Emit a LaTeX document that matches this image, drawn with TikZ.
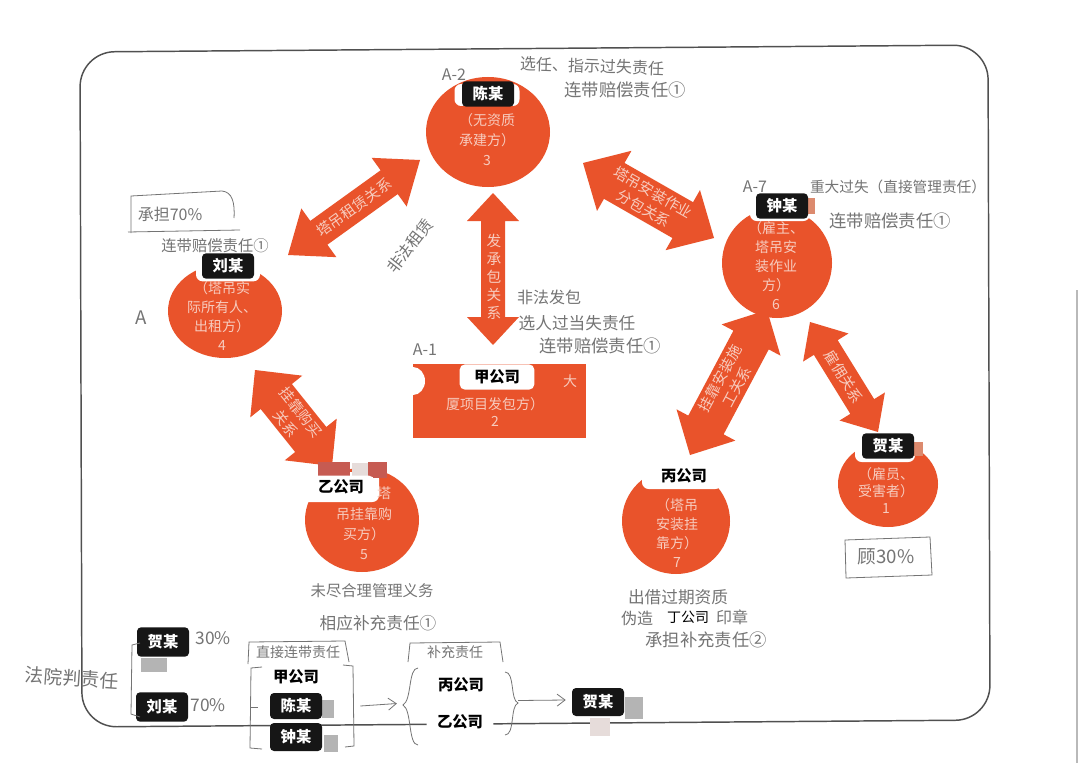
\documentclass[tikz,border=0pt]{standalone}
\usepackage{fontspec}
\newfontfamily\cjk{Noto Sans CJK SC}
\usetikzlibrary{shapes.geometric,calc,arrows.meta}
\definecolor{orng}{HTML}{E9532B}
\definecolor{pinktxt}{HTML}{F7CBBE}
\definecolor{pen}{HTML}{747474}
\definecolor{framec}{HTML}{505050}
\definecolor{lblk}{HTML}{161616}
\definecolor{patchg}{HTML}{B4B4B4}
\definecolor{patchor}{HTML}{DC8A6E}
\definecolor{patchpk}{HTML}{C65B52}
\definecolor{patchlt}{HTML}{E6DCDA}
\newcommand\fatarr[5]{%
  \coordinate (fa1) at ($(#1)!#5!(#2)$);
  \coordinate (fb1) at ($(#2)!#5!(#1)$);
  \fill[arrfill] (#1) -- ($(fa1)!#4!90:(#2)$) -- ($(fa1)!#3!90:(#2)$)
    -- ($(fb1)!#3!-90:(#1)$) -- ($(fb1)!#4!-90:(#1)$) -- (#2)
    -- ($(fb1)!#4!90:(#1)$) -- ($(fb1)!#3!90:(#1)$)
    -- ($(fa1)!#3!-90:(#2)$) -- ($(fa1)!#4!-90:(#2)$) -- cycle;}
\begin{document}
\begin{tikzpicture}[x=0.75pt,y=-0.75pt,
  arrfill/.style={fill=orng},
  circ/.style={ellipse, fill=orng, inner sep=0pt},
  intxt/.style={text=pinktxt, font=\cjk\fontsize{10.5}{14.5}\selectfont, align=center, inner sep=0pt},
  arrtxt/.style={text=pinktxt, font=\cjk\fontsize{11}{14}\selectfont, align=center, inner sep=0pt},
  blk/.style={fill=lblk, text=white, rounded corners=3pt, font=\cjk\bfseries\fontsize{11.5}{12}\selectfont, inner xsep=3pt, inner ysep=0pt, minimum height=19pt, minimum width=39pt},
  wht/.style={fill=white, text=black, rounded corners=4pt, font=\cjk\bfseries\fontsize{11.5}{12}\selectfont, inner xsep=4pt, inner ysep=0pt, minimum height=19pt},
  hand/.style={text=pen, font=\cjk\fontsize{12}{14}\selectfont, inner sep=0pt},
  halo/.style={fill=white, rounded corners=5pt, inner sep=0pt},
  pencil/.style={draw=pen, line width=0.6pt},
  patchbox/.style={inner sep=0pt},
]
\fill[white] (0,0) rectangle (1080,763);
\useasboundingbox (0,0) rectangle (1080,763);

% frame
\draw[framec, line width=1.1pt, rounded corners=26pt] (534,48.5) -- (988,45) -- (990,720) -- (82,727) -- (80,52) -- cycle;
\draw[gray!55, line width=0.8pt] (1077,290) -- (1077,763);

% arrow end points
\coordinate (a1s) at (288,255); \coordinate (a1e) at (420,160);
\coordinate (a2s) at (493,193); \coordinate (a2e) at (493,345);
\coordinate (a3s) at (583,163); \coordinate (a3e) at (714,238);
\coordinate (a4s) at (255,370); \coordinate (a4e) at (332,466);
\coordinate (a5s) at (690,455); \coordinate (a5e) at (767,310);
\coordinate (a6s) at (810,322); \coordinate (a6e) at (878,432);

\fatarr{a1s}{a1e}{11pt}{22.5pt}{28.5pt}
\fatarr{a2s}{a2e}{9pt}{19.5pt}{21pt}
\fatarr{a3s}{a3e}{15.5pt}{26pt}{27pt}
\fatarr{a4s}{a4e}{15pt}{25pt}{25.5pt}
\fatarr{a5s}{a5e}{15pt}{25pt}{25.5pt}
\fatarr{a6s}{a6e}{10.5pt}{20pt}{22.5pt}

\node[arrtxt, rotate=35.7] (l1) at ($(a1s)!0.5!(a1e)$) {塔吊租赁关系};
\node[arrtxt, font=\cjk\fontsize{11}{13.5}\selectfont] (l2) at (494,277) {发\\承\\包\\关\\系};
\node[arrtxt, rotate=-29.8] (l3) at ($(a3s)!0.5!(a3e)$) {塔吊安装作业\\分包关系};
\node[arrtxt, rotate=-51.3] (l4) at ($(a4s)!0.5!(a4e)$) {挂靠购买\\关系};
\node[arrtxt, rotate=62] (l5) at ($(a5s)!0.5!(a5e)$) {挂靠安装施\\工关系};
\node[arrtxt, rotate=-58.3] (l6) at ($(a6s)!0.5!(a6e)$) {雇佣关系};

% parties
\node[circ, minimum width=93pt, minimum height=82.5pt] (c3) at (488,132) {};
\node[circ, minimum width=85.5pt, minimum height=70.5pt] (c4) at (225,311) {};
\node[circ, minimum width=82.5pt, minimum height=82.5pt] (c6) at (777,263) {};
\node[fill=orng, minimum width=129.75pt, minimum height=55.5pt, inner sep=0pt] (r2) at (499.5,401) {};
\node[circ, minimum width=85.5pt, minimum height=78pt] (c5) at (362,520) {};
\node[circ, minimum width=81pt, minimum height=79.5pt] (c7) at (676,521) {};
\node[circ, minimum width=75pt, minimum height=64.5pt] (c1) at (888,484) {};

% cut-outs and patches
\node[halo, minimum width=48.75pt, minimum height=16.5pt] (h3) at (487,95) {};
\node[halo, minimum width=48pt, minimum height=20pt] (h4) at (228,268) {};
\node[halo, minimum width=45pt, minimum height=16.5pt] (h6) at (780,210) {};
\node[patchbox, fill=patchor, minimum width=7.5pt, minimum height=12pt] (p6) at (810,206) {};
\node[halo, minimum width=45pt, minimum height=16.5pt] (h1) at (885,451) {};
\node[patchbox, fill=patchor, minimum width=7.5pt, minimum height=10.5pt] (p1) at (918,449) {};
\node[halo, minimum width=58.5pt, minimum height=22.5pt] (h5) at (340,487) {};
\node[patchbox, fill=patchpk, minimum width=24pt, minimum height=10.5pt] (p5a) at (334,469) {};
\node[patchbox, fill=patchlt, minimum width=12pt, minimum height=9.75pt] (p5b) at (360,469.5) {};
\node[patchbox, fill=patchpk, minimum width=14.25pt, minimum height=12pt] (p5c) at (377.5,470) {};
\node[halo, minimum width=60pt, minimum height=21pt] (h7) at (682,475) {};
\node[ellipse, fill=white, inner sep=0pt, minimum width=18pt, minimum height=21pt] (h2) at (413,381) {};

% labels
\node[blk] (k3) at (488,94) {陈某};
\node[blk] (k4) at (228,266) {刘某};
\node[blk] (k6) at (782,206) {钟某};
\node[blk] (k1) at (888,446) {贺某};
\node[wht, minimum width=56pt] (w2) at (497,377) {甲公司};
\node[wht, minimum width=50pt, minimum height=17pt] (w5) at (341,487) {乙公司};
\node[wht, minimum width=51pt, minimum height=17pt] (w7) at (684,476) {丙公司};

% texts inside
\node[intxt, font=\cjk\fontsize{10.5}{15}\selectfont] (t3) at (487,140) {（无资质\\承建方）\\3};
\node[intxt, font=\cjk\fontsize{10.5}{14.25}\selectfont] (t4) at (222,316) {（塔吊实\\际所有人、\\出租方）\\4};
\node[intxt, font=\cjk\fontsize{10.5}{14.25}\selectfont] (t6) at (776,266) {（雇主、\\塔吊安\\装作业\\方）\\6};
\node[intxt] (t2a) at (570,381) {大};
\node[intxt, font=\cjk\fontsize{10.5}{12.75}\selectfont] (t2b) at (495,412) {厦项目发包方）\\2};
\node[intxt] (t5a) at (384,493) {塔};
\node[intxt, font=\cjk\fontsize{10.5}{15}\selectfont] (t5b) at (364,534) {吊挂靠购\\买方）\\5};
\node[intxt, font=\cjk\fontsize{10.5}{14.25}\selectfont] (t7) at (677,533) {（塔吊\\安装挂\\靠方）\\7};
\node[intxt, font=\cjk\fontsize{10.5}{12.75}\selectfont] (t1) at (886,491) {（雇员、\\受害者）\\1};

% handwritten notes
\node[hand] (n1) at (454,75) {A-2};
\node[hand, rotate=-2] (n2) at (592,66) {选任、指示过失责任};
\node[hand, font=\cjk\fontsize{13}{14}\selectfont] (n3) at (625,90) {连带赔偿责任①};
\draw[pencil] (131,233) -- (131,196) -- (222,191) .. controls (232,192) and (235,202) .. (234,218);
\draw[pencil] (128,232) -- (240,230);
\node[hand] (n4) at (170,214) {承担70\%};
\node[hand, font=\cjk\fontsize{11.5}{13}\selectfont] (n5) at (215,246) {连带赔偿责任①};
\node[hand, font=\cjk\fontsize{14}{14}\selectfont] (n6) at (141,318) {A};
\node[hand, rotate=52] (n7) at (410,246) {非法租赁};
\node[hand] (n8) at (425,350) {A-1};
\node[hand] (n9) at (549,297) {非法发包};
\node[hand, font=\cjk\fontsize{12.5}{14}\selectfont] (n10) at (577,323) {选人过当失责任};
\node[hand, font=\cjk\fontsize{13}{14}\selectfont] (n11) at (600,346) {连带赔偿责任①};
\node[hand] (n12) at (755,187) {A-7};
\node[hand, font=\cjk\fontsize{11}{13}\selectfont] (n13) at (898,187) {重大过失（直接管理责任）};
\node[hand, font=\cjk\fontsize{13}{14}\selectfont] (n14) at (890,221) {连带赔偿责任①};
\node[hand, font=\cjk\fontsize{11.5}{13}\selectfont] (n15) at (372,591) {未尽合理管理义务};
\node[hand, font=\cjk\fontsize{12.5}{14}\selectfont] (n16) at (378,623) {相应补充责任①};
\node[hand, font=\cjk\fontsize{12.5}{14}\selectfont] (n17) at (678,597) {出借过期资质};
\node[hand] (n18) at (637,618) {伪造};
\node[inner sep=0pt, font=\cjk\fontsize{10.5}{12}\selectfont] (n19) at (688,617) {丁公司};
\node[hand] (n20) at (732,617) {印章};
\node[hand, font=\cjk\fontsize{13}{14}\selectfont] (n21) at (706,640) {承担补充责任②};
\draw[pencil] (845,540) -- (930,537) -- (932,575) -- (846,578) -- cycle;
\node[hand, font=\cjk\fontsize{14}{14}\selectfont] (n22) at (886,557) {顾30\%};

% bottom summary
\node[patchbox, fill=patchg, minimum width=20pt, minimum height=10.5pt] (q1) at (154,665) {};
\node[blk, minimum height=22pt] (b1) at (163,642) {贺某};
\node[blk, minimum height=22pt] (b2) at (162,707) {刘某};
\node[hand, font=\cjk\fontsize{13}{14}\selectfont] (n23) at (213,638) {30\%};
\node[hand, font=\cjk\fontsize{13}{14}\selectfont] (n24) at (208,705) {70\%};
\node[hand, font=\cjk\fontsize{14}{14}\selectfont, rotate=-4] (n25) at (72,678) {法院判责任};
\draw[pencil] (140,643) -- (132,645) -- (131,714) -- (140,717);

\node[hand, font=\cjk\fontsize{10.5}{12}\selectfont] (n26) at (298,652) {直接连带责任};
\draw[pencil] (248,664) -- (249,642) -- (345,641) -- (349,662);
\draw[pencil] (262,667) -- (251,668) -- (250,748) -- (262,749);
\draw[pencil] (251,707) -- (258,707);
\draw[pencil] (343,665) -- (353,666) -- (354,746) -- (345,747);
\node[patchbox, fill=patchg, minimum width=9pt, minimum height=13.5pt] (q2) at (328,709) {};
\node[patchbox, fill=patchg, minimum width=10pt, minimum height=12.75pt] (q3) at (331,743) {};
\node[wht, minimum width=46pt, minimum height=18pt] (b3) at (296,677) {甲公司};
\node[blk, minimum height=19.5pt] (b4) at (296,706) {陈某};
\node[blk, minimum height=21pt] (b5) at (296,737) {钟某};

\node[hand, font=\cjk\fontsize{10.5}{12}\selectfont] (n27) at (455,652) {补充责任};
\draw[pencil] (408,662) -- (410,643) -- (500,642) -- (503,662);
\draw[pencil] (418,668) .. controls (408,668) and (412,700) .. (403,705) .. controls (412,710) and (408,745) .. (418,745);
\draw[pencil] (505,672) .. controls (515,672) and (510,700) .. (518,703) .. controls (510,706) and (515,735) .. (505,735);
\node[wht, minimum width=50pt, minimum height=20pt] (b6) at (461,685) {丙公司};
\node[wht, minimum width=50pt, minimum height=20pt] (b7) at (460,722) {乙公司};
\coordinate (s1) at ($(b4.east)+(38,0)$);
\coordinate (s2) at ($(b6.west)!0.5!(b7.west)+(-30,0)$);
\draw[pencil, -{Straight Barb[length=6pt,width=9pt]}] (s1) -- (s2);
\node[patchbox, fill=patchg, minimum width=13.5pt, minimum height=17pt] (q4) at (634,708) {};
\node[patchbox, fill=patchlt, minimum width=15pt, minimum height=13pt] (q5) at (600,727) {};
\node[blk, minimum height=21pt] (b8) at (598,702) {贺某};
\coordinate (s3) at ($(b6.east)!0.5!(b7.east)+(24,-3)$);
\coordinate (s4) at ($(b8.west)+(-6,-2)$);
\draw[pencil, -{Straight Barb[length=6pt,width=9pt]}] (s3) -- (s4);
\end{tikzpicture}
\end{document}
